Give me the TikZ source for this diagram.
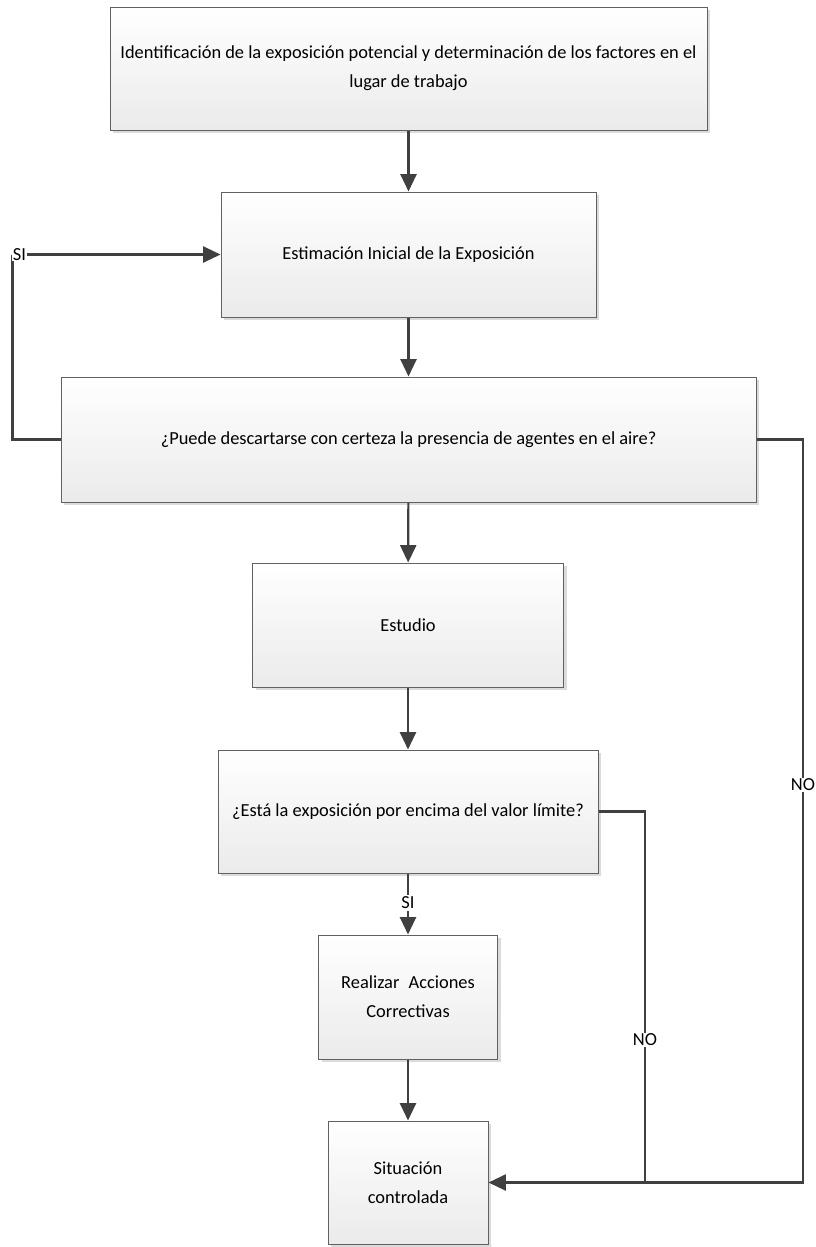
\documentclass[tikz,border=0pt]{standalone}
\usepackage{fontspec}
\setmainfont{Carlito}
\usetikzlibrary{arrows.meta,shadows}

\tikzset{
  flowbox/.style={draw=black!62, line width=0.75pt, rectangle,
    top color=white, bottom color=black!8,
    general shadow={fill=black!14, shadow xshift=2.4pt, shadow yshift=-2.4pt},
    align=center, inner sep=2pt,
    font=\fontsize{13.8}{21.75}\selectfont},
  link/.style={draw=black!75, line width=1.6pt},
  flow/.style={link, -{Triangle[length=13pt,width=12pt]}},
  tag/.style={fill=white, inner sep=1pt, font=\fontsize{13.8}{15}\selectfont}
}

\begin{document}
\begin{tikzpicture}[x=0.75pt,y=-0.75pt]
  \useasboundingbox (0,0) rectangle (815,1247);

  % process boxes (centres in px)
  \node[flowbox, minimum width=447.75pt, minimum height=92.25pt] (ident) at (408.5,68.5)
    {Identificación de la exposición potencial y determinación de los factores en el\\lugar de trabajo};
  \node[flowbox, minimum width=281.25pt, minimum height=93.75pt] (estim) at (408.5,254.5)
    {Estimación Inicial de la Exposición};
  \node[flowbox, minimum width=521.25pt, minimum height=93.75pt] (descart) at (408.5,439.5)
    {¿Puede descartarse con certeza la presencia de agentes en el aire?};
  \node[flowbox, minimum width=233.25pt, minimum height=93pt] (estudio) at (408,625)
    {Estudio};
  \node[flowbox, minimum width=285pt, minimum height=92.25pt] (limite) at (408,811.5)
    {¿Está la exposición por encima del valor límite?};
  \node[flowbox, minimum width=134.25pt, minimum height=93pt] (acciones) at (408,997)
    {Realizar\hspace{0.5em}Acciones\\Correctivas};
  \node[flowbox, minimum width=120pt, minimum height=92.25pt] (control) at (408,1182.5)
    {Situación\\controlada};

  % main vertical flow
  \draw[flow] (ident) -- (estim);
  \draw[flow] (estim) -- (descart);
  \draw[flow] (descart) -- (estudio);
  \draw[flow] (estudio) -- (limite);
  \node[tag] (siA) at (408,903) {SI};
  \draw[link] (limite) -- (siA);
  \draw[flow] (siA) -- (acciones);
  \draw[flow] (acciones) -- (control);

  % SI loop back to the initial estimate
  \coordinate (loopL) at (12.5,254.5);
  \draw[link] (descart.west) -| (loopL);
  \draw[flow] (loopL) -- (estim.west);
  \node[tag, anchor=west, inner sep=0.5pt] (siB) at (12,254.5) {SI};

  % NO branches into the controlled situation
  \coordinate (joinA) at (645,1182.5);
  \coordinate (joinB) at (803,1182.5);
  \draw[link] (limite.east) -| (joinA);
  \draw[link] (descart.east) -| (joinB) -- (joinA);
  \draw[flow] (joinA) -- (control.east);
  \node[tag] (noA) at (645,1040) {NO};
  \node[tag] (noB) at (803,785) {NO};
\end{tikzpicture}
\end{document}
